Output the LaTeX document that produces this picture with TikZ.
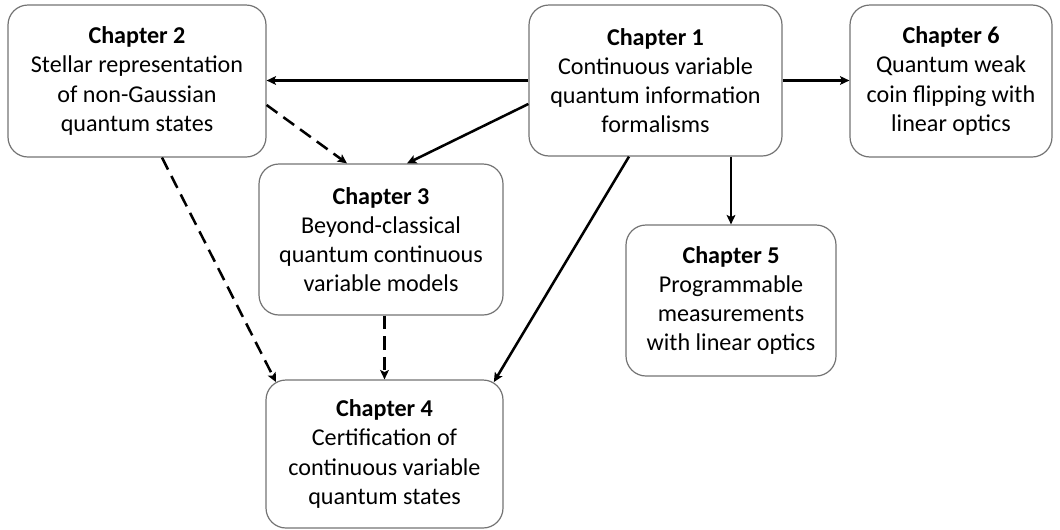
\documentclass[tikz,border=0pt]{standalone}
\usepackage{fontspec}
\setmainfont{Carlito}
\usetikzlibrary{arrows.meta}
\begin{document}
\begin{tikzpicture}[x=0.75pt,y=-0.75pt,
  chap/.style={draw=black!55, line width=0.9pt, rounded corners=15pt, align=center, inner sep=0pt,
    font=\fontsize{18.1pt}{21.8pt}\selectfont},
  conn/.style={line width=1.9pt, -{Stealth[length=7pt,width=6.5pt,inset=1.5pt]}},
  dconn/.style={conn, dash pattern=on 10pt off 5.5pt}]
\useasboundingbox (0,0) rectangle (1060,529);
\node[chap, minimum width=193.5pt, minimum height=114pt] (ch2) at (137,81)
  {\textbf{Chapter 2}\\Stellar representation\\of non-Gaussian\\quantum states};
\node[chap, minimum width=189.75pt, minimum height=113.25pt] (ch1) at (655.5,80.5)
  {\textbf{Chapter 1}\\Continuous variable\\quantum information\\formalisms};
\node[chap, minimum width=151.5pt, minimum height=114pt] (ch6) at (951,81)
  {\textbf{Chapter 6}\\Quantum weak\\coin flipping with\\linear optics};
\node[chap, minimum width=183pt, minimum height=113.25pt] (ch3) at (381,239.5)
  {\textbf{Chapter 3}\\Beyond-classical\\quantum continuous\\variable models};
\node[chap, minimum width=157.5pt, minimum height=113.25pt] (ch5) at (731,300.5)
  {\textbf{Chapter 5}\\Programmable\\measurements\\with linear optics};
\node[chap, minimum width=177.75pt, minimum height=111pt] (ch4) at (384.5,454)
  {\textbf{Chapter 4}\\Certification of\\continuous variable\\quantum states};
\draw[conn] (ch1.west) -- (ch1.west -| ch2.east);
\draw[conn] ([yshift=-17.6pt]ch1.west) -- ([xshift=19.5pt]ch3.north);
\draw[dconn] ([yshift=-18pt]ch2.east) -- ([xshift=-25.5pt]ch3.north);
\draw[conn] (ch1.east) -- (ch1.east -| ch6.west);
\draw[conn] (ch5.north |- ch1.south) -- (ch5.north);
\draw[conn] ([xshift=-19.9pt]ch1.south) -- ([xshift=82pt,yshift=-2pt]ch4.north);
\draw[dconn] ([xshift=18.75pt]ch2.south) -- ([xshift=-81.4pt,yshift=-2pt]ch4.north);
\draw[dconn] (ch4.north |- ch3.south) -- (ch4.north);
\end{tikzpicture}
\end{document}
